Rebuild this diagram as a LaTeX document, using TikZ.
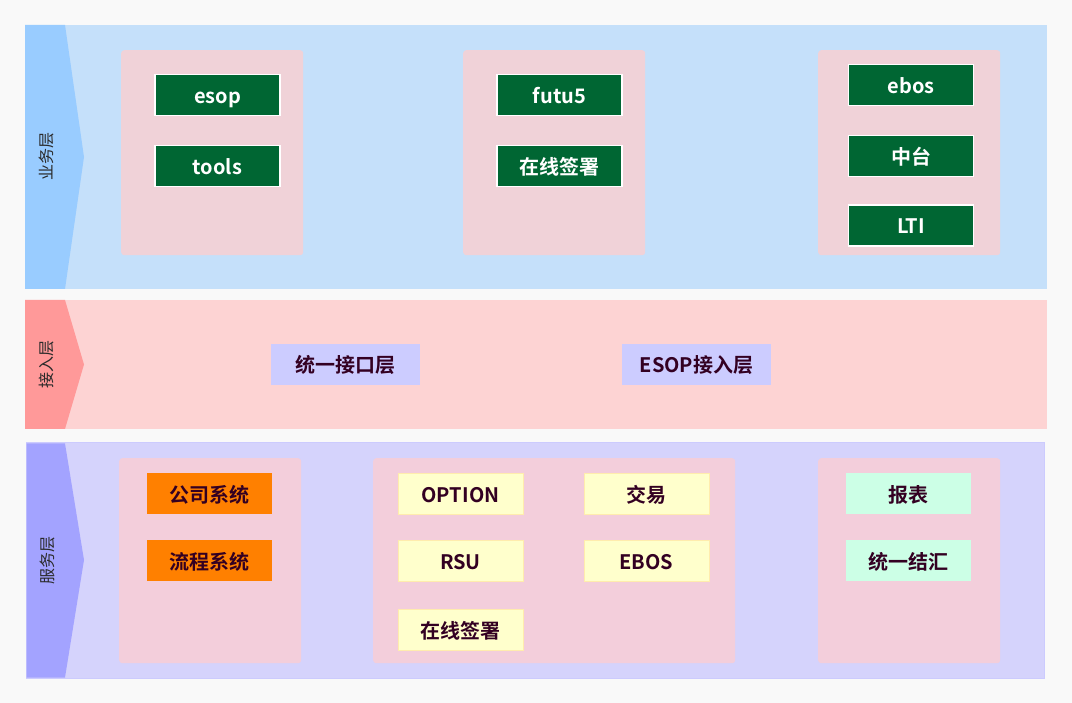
\documentclass[tikz,border=0pt]{standalone}
\usepackage{fontspec}
\newfontfamily\cjk{Noto Sans CJK SC}[BoldFont={Noto Sans CJK SC Bold}]
\definecolor{bgc}{HTML}{F9F9F9}
\definecolor{l1}{HTML}{C5E0FA}
\definecolor{t1}{HTML}{99CCFF}
\definecolor{l2}{HTML}{FDD3D3}
\definecolor{t2}{HTML}{FF9999}
\definecolor{l3}{HTML}{D5D3FC}
\definecolor{t3}{HTML}{A3A3FF}
\definecolor{grp}{HTML}{F0D2D8}
\definecolor{grp3}{HTML}{F3CEDB}
\definecolor{gfill}{HTML}{006633}
\definecolor{lav}{HTML}{CCCCFF}
\definecolor{org}{HTML}{FF8000}
\definecolor{yel}{HTML}{FFFFCC}
\definecolor{mint}{HTML}{CCFFE6}
\definecolor{dtxt}{HTML}{330022}
\definecolor{tabtxt}{HTML}{2A2A2A}
\tikzset{
  layer/.style={anchor=north west, inner sep=0pt, outer sep=0pt},
  grpbox/.style={anchor=north west, inner sep=0pt, fill=grp, rounded corners=3pt, minimum width=182pt, minimum height=205pt},
  abox/.style={inner sep=0pt, minimum width=125pt, minimum height=41pt, text height=18pt, text depth=1pt, font=\cjk\bfseries\fontsize{20}{22}\selectfont},
  gbox/.style={abox, fill=gfill, draw=white, line width=1.5pt, text=white},
  lbox/.style={abox, fill=lav, minimum width=149pt, text=dtxt},
  obox/.style={abox, fill=org, text=dtxt},
  ybox/.style={abox, fill=yel, draw=yel!85!orange, line width=0.6pt, text=dtxt},
  mbox/.style={abox, fill=mint, text=dtxt},
  tablabel/.style={rotate=90, text=tabtxt, font=\cjk\fontsize{16}{18}\selectfont},
}
\begin{document}
\begin{tikzpicture}[x=1pt,y=-1pt]
\fill[bgc] (0,0) rectangle (1072,703);
\useasboundingbox (0,0) rectangle (1072,703);
% layers
\node[layer, fill=l1, minimum width=1022pt, minimum height=264pt] (L1) at (25,25) {};
\fill[t1] (L1.north west) -- (65,25) -- (84,157) -- (65,289) -- (L1.south west) -- cycle;
\node[tablabel] (T1) at (46,157) {业务层};

\node[layer, fill=l2, minimum width=1022pt, minimum height=129pt] (L2) at (25,300) {};
\fill[t2] (L2.north west) -- (65,300) -- (84,364.5) -- (65,429) -- (L2.south west) -- cycle;
\node[tablabel] (T2) at (46,364.5) {接入层};

\node[layer, fill=l3, draw=l3!80!blue!60!white, line width=1pt, minimum width=1018pt, minimum height=235pt] (L3) at (26,443) {};
\fill[t3] (26.5,443.5) -- (65,443.5) -- (84,560) -- (65,677.5) -- (26.5,677.5) -- cycle;
\node[tablabel] (T3) at (47,560) {服务层};

% groups layer 1
\node[grpbox] (G1) at (121,50) {};
\node[grpbox] (G2) at (463,50) {};
\node[grpbox] (G3) at (818,50) {};
% groups layer 3
\node[grpbox, fill=grp3] (G4) at (119,458) {};
\node[grpbox, fill=grp3, minimum width=362pt] (G5) at (373,458) {};
\node[grpbox, fill=grp3] (G6) at (818,458) {};

% layer 1 boxes
\node[gbox] (esop) at (217.5,95) {esop};
\node[gbox] (tools) at (217.5,166) {tools};
\node[gbox] (futu5) at (559.5,95) {futu5};
\node[gbox] (sign1) at (559.5,166) {在线签署};
\node[gbox] (ebos) at (911,85) {ebos};
\node[gbox] (zt) at (911,156) {中台};
\node[gbox] (lti) at (911,225.5) {LTI};

% layer 2 boxes
\node[lbox] (unify) at (345.5,364.5) {统一接口层};
\node[lbox] (esopin) at (696.5,364.5) {ESOP接入层};

% layer 3 boxes
\node[obox] (corp) at (209.5,493.5) {公司系统};
\node[obox] (flow) at (209.5,560.5) {流程系统};
\node[ybox] (option) at (460.5,493.5) {OPTION};
\node[ybox] (trade) at (646.5,493.5) {交易};
\node[ybox] (rsu) at (460.5,560.5) {RSU};
\node[ybox] (ebos2) at (646.5,560.5) {EBOS};
\node[ybox] (sign2) at (460.5,629.5) {在线签署};
\node[mbox] (report) at (908.5,493.5) {报表};
\node[mbox] (fx) at (908.5,560.5) {统一结汇};
\end{tikzpicture}
\end{document}
